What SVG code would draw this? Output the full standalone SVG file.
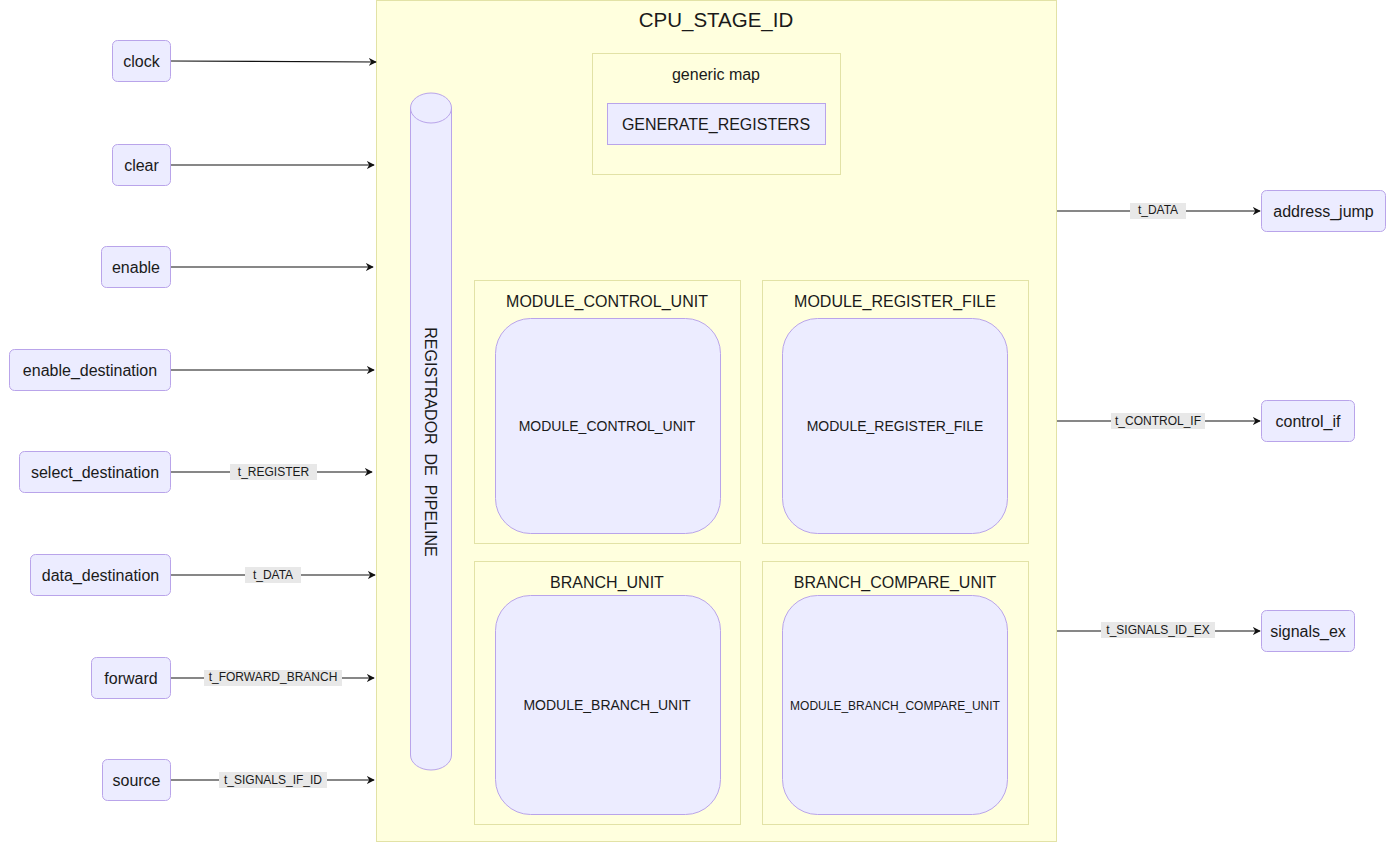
<svg xmlns="http://www.w3.org/2000/svg" width="1393" height="843" viewBox="0 0 1393 843">
  <style>
    text { font-family: "Liberation Sans", Arial, sans-serif; fill: #1a1a1a; }
    .cluster { fill: #ffffde; stroke: #e2e2a6; stroke-width: 1; }
    .node { fill: #ececff; stroke: #b9a4ea; stroke-width: 1; }
    .t16 { font-size: 16px; text-anchor: middle; dominant-baseline: central; }
    .t14 { font-size: 14px; text-anchor: middle; dominant-baseline: central; }
    .edge { stroke: #111; stroke-width: 1.2; fill: none; marker-end: url(#arrow); }
    .lblbg { fill: #e8e8e8; }
    .lbl { font-size: 12px; text-anchor: middle; dominant-baseline: central; }
  </style>
  <defs>
    <marker id="arrow" viewBox="0 0 10 10" refX="9" refY="5" markerWidth="8" markerHeight="8" markerUnits="userSpaceOnUse" orient="auto">
      <path d="M0,0 L10,5 L0,10 L3,5 z" fill="#111"/>
    </marker>
  </defs>

  <!-- stage container -->
  <g id="CPU_STAGE_ID">
    <rect class="cluster" x="376.5" y="0.5" width="680" height="841"/>
    <text x="716" y="19" style="font-size:20.5px;text-anchor:middle;dominant-baseline:central">CPU_STAGE_ID</text>
  </g>

  <g id="generic_map">
    <rect class="cluster" x="592.5" y="53.5" width="248" height="121"/>
    <text class="t16" x="716" y="74" style="font-size:16px">generic map</text>
  </g>
  <g id="GENERATE_REGISTERS">
    <rect class="node" x="607.5" y="103.5" width="218" height="41"/>
    <text class="t16" x="716" y="124">GENERATE_REGISTERS</text>
  </g>

  <!-- pipeline register drawn as a cylinder -->
  <g id="REGISTRADOR_DE_PIPELINE">
    <path class="node" d="M410.5,108 A20.5,15 0 0 1 451.5,108 L451.5,755 A20.5,15 0 0 1 410.5,755 Z"/>
    <path d="M410.5,108 A20.5,15 0 0 0 451.5,108" fill="none" stroke="#b9a4ea"/>
    <text class="t16" transform="translate(430,442) rotate(90)" xml:space="preserve">REGISTRADOR  DE  PIPELINE</text>
  </g>

  <g id="cluster_MODULE_CONTROL_UNIT">
    <rect class="cluster" x="474.5" y="280.5" width="266" height="263"/>
    <text class="t16" x="607" y="301">MODULE_CONTROL_UNIT</text>
  </g>
  <g id="MODULE_CONTROL_UNIT">
    <rect class="node" x="495.5" y="318.5" width="225" height="215" rx="35"/>
    <text class="t14" x="607" y="426">MODULE_CONTROL_UNIT</text>
  </g>

  <g id="cluster_MODULE_REGISTER_FILE">
    <rect class="cluster" x="762.5" y="280.5" width="266" height="263"/>
    <text class="t16" x="895" y="301">MODULE_REGISTER_FILE</text>
  </g>
  <g id="MODULE_REGISTER_FILE">
    <rect class="node" x="782.5" y="318.5" width="225" height="215" rx="35"/>
    <text class="t14" x="895" y="426">MODULE_REGISTER_FILE</text>
  </g>

  <g id="cluster_BRANCH_UNIT">
    <rect class="cluster" x="474.5" y="561.5" width="266" height="263"/>
    <text class="t16" x="607" y="582">BRANCH_UNIT</text>
  </g>
  <g id="MODULE_BRANCH_UNIT">
    <rect class="node" x="495.5" y="595.5" width="225" height="219" rx="35"/>
    <text class="t14" x="607" y="705">MODULE_BRANCH_UNIT</text>
  </g>

  <g id="cluster_BRANCH_COMPARE_UNIT">
    <rect class="cluster" x="762.5" y="561.5" width="266" height="263"/>
    <text class="t16" x="895" y="582">BRANCH_COMPARE_UNIT</text>
  </g>
  <g id="MODULE_BRANCH_COMPARE_UNIT">
    <rect class="node" x="782.5" y="595.5" width="225" height="219" rx="35"/>
    <text class="t14" x="895" y="706" style="font-size:12px">MODULE_BRANCH_COMPARE_UNIT</text>
  </g>

  <!-- input ports -->
  <g id="clock"><rect class="node" x="112.5" y="40.5" width="58" height="41" rx="5"/><text class="t16" x="141.5" y="61">clock</text></g>
  <g id="clear"><rect class="node" x="112.5" y="144.5" width="58" height="41" rx="5"/><text class="t16" x="141.5" y="165">clear</text></g>
  <g id="enable"><rect class="node" x="101.5" y="246.5" width="69" height="41" rx="5"/><text class="t16" x="136" y="267">enable</text></g>
  <g id="enable_destination"><rect class="node" x="9.5" y="349.5" width="161" height="41" rx="5"/><text class="t16" x="90" y="370">enable_destination</text></g>
  <g id="select_destination"><rect class="node" x="19.5" y="451.5" width="151" height="41" rx="5"/><text class="t16" x="95" y="472">select_destination</text></g>
  <g id="data_destination"><rect class="node" x="30.5" y="554.5" width="140" height="41" rx="5"/><text class="t16" x="100.5" y="575">data_destination</text></g>
  <g id="forward"><rect class="node" x="91.5" y="657.5" width="79" height="41" rx="5"/><text class="t16" x="131" y="678">forward</text></g>
  <g id="source"><rect class="node" x="102.5" y="759.5" width="68" height="41" rx="5"/><text class="t16" x="136.5" y="780">source</text></g>

  <!-- output ports -->
  <g id="address_jump"><rect class="node" x="1261.5" y="190.5" width="124" height="41" rx="5"/><text class="t16" x="1323.5" y="211">address_jump</text></g>
  <g id="control_if"><rect class="node" x="1261.5" y="400.5" width="93" height="41" rx="5"/><text class="t16" x="1308" y="421">control_if</text></g>
  <g id="signals_ex"><rect class="node" x="1261.5" y="610.5" width="93" height="41" rx="5"/><text class="t16" x="1308" y="631">signals_ex</text></g>

  <!-- connectors -->
  <g id="connectors">
    <path class="edge" d="M171,61 L376,62"/>
    <path class="edge" d="M171,165 L374,165"/>
    <path class="edge" d="M171,267 L373,267"/>
    <path class="edge" d="M171,370 L374,370"/>
    <path class="edge" d="M171,472 L372,472"/>
    <path class="edge" d="M171,575 L375,575"/>
    <path class="edge" d="M171,678 L374,678"/>
    <path class="edge" d="M171,780 L374,780"/>
    <path class="edge" d="M1057,211 L1260,211"/>
    <path class="edge" d="M1057,421 L1260,421"/>
    <path class="edge" d="M1057,631 L1260,631"/>

    <rect class="lblbg" x="230" y="464" width="87" height="16"/>
    <text class="lbl" x="273.5" y="472">t_REGISTER</text>
    <rect class="lblbg" x="245" y="567" width="56" height="16"/>
    <text class="lbl" x="273" y="575">t_DATA</text>
    <rect class="lblbg" x="204" y="670" width="138" height="16"/>
    <text class="lbl" x="273" y="677">t_FORWARD_BRANCH</text>
    <rect class="lblbg" x="219" y="772" width="108" height="16"/>
    <text class="lbl" x="273" y="780">t_SIGNALS_IF_ID</text>

    <rect class="lblbg" x="1130" y="203" width="56" height="16"/>
    <text class="lbl" x="1158" y="210">t_DATA</text>
    <rect class="lblbg" x="1111" y="413" width="94" height="16"/>
    <text class="lbl" x="1158" y="421">t_CONTROL_IF</text>
    <rect class="lblbg" x="1101" y="622" width="114" height="16"/>
    <text class="lbl" x="1158" y="630">t_SIGNALS_ID_EX</text>
  </g>
</svg>
